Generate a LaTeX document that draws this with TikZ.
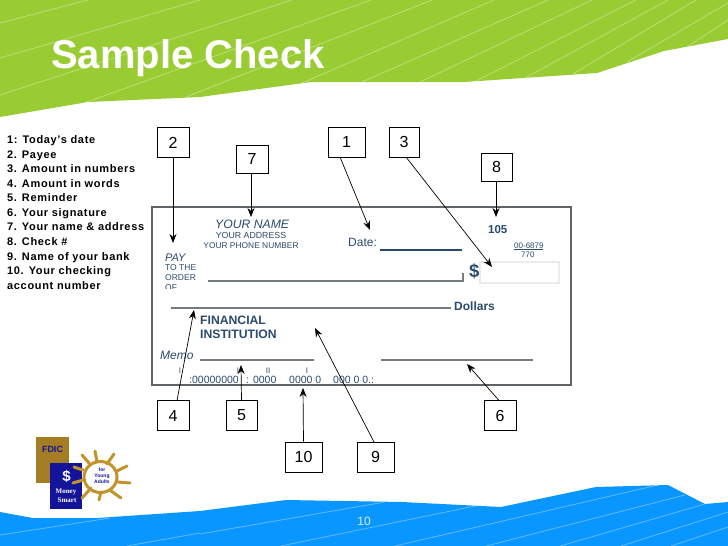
\documentclass[tikz,border=0pt]{standalone}
\usepackage{fontspec}
\setmainfont{Liberation Sans}
\newfontfamily\listfont[LetterSpace=6]{Liberation Sans}
\newfontfamily\serifb{Liberation Serif}
\usetikzlibrary{arrows.meta}
\definecolor{ggreen}{HTML}{99CC33}
\definecolor{bblue}{HTML}{0A96FF}
\definecolor{ink}{HTML}{2C4A6E}
\definecolor{frameg}{HTML}{5E6468}
\definecolor{gold}{HTML}{C2932A}
\definecolor{navyb}{HTML}{14149A}
\newcommand{\fs}[1]{\fontsize{#1}{#1}\selectfont}
\tikzset{
  numbox/.style={draw=black,line width=0.8pt,fill=white,minimum height=30pt,inner sep=0pt,font=\fs{16}},
  pointer/.style={draw=black,line width=0.7pt,-{Stealth[length=9pt,width=7pt]}},
  sheen/.style={draw=white,opacity=0.35,line width=0.8pt},
  listline/.style={anchor=base west,inner sep=0pt,font=\listfont\bfseries\fs{11}},
  checktxt/.style={inner sep=0pt,text=ink,anchor=base west},
  checkline/.style={draw=frameg!85,line width=1.3pt},
  ray/.style={draw=gold,line width=3pt,line cap=round}
}
\begin{document}
\begin{tikzpicture}[x=1pt,y=-1pt]
\useasboundingbox (0,0) rectangle (728,546);
\fill[white] (0,0) rectangle (728,546);
% green band
\fill[ggreen] (0,0) -- (728,0) -- (728,39) -- (664,51) -- (597,73) -- (464,82) -- (311,82) -- (200,97) -- (88,102) -- (0,117) -- cycle;
\foreach \a/\b/\c/\d in {0/23/88/0,0/58/200/0,0/95/292/0,84/103/371/0,186/97/432/0,302/83/494/0,362/82/548/0,420/82/592/0,474/82/636/0,525/78/668/0,573/74/696/0,627/62/728/3,687/47/728/20}
  \draw[sheen] (\a,\b) -- (\c,\d);
% blue band
\fill[bblue] (0,512) -- (33,518) -- (97,518) -- (200,511) -- (286,500) -- (402,502) -- (501,507) -- (596,487) -- (668,485) -- (705,504) -- (728,502) -- (728,546) -- (0,546) -- cycle;
\foreach \a/\b/\c/\d in {0/535/110/518,127/546/200/533,200/534/385/502,281/546/480/505,395/546/658/485,486/546/685/495,560/546/705/504,621/546/728/512,671/546/728/527}
  \draw[sheen] (\a,\b) -- (\c,\d);
\node[anchor=base west,inner sep=0pt,text=white,font=\bfseries\fs{40}] (title) at (51,68) {Sample Check};
\node[inner sep=0pt,text=white!85!bblue,font=\fs{12}] (pageno) at (364,521) {10};
% list
\node[listline] (l1) at (7,143) {1: Today’s date};
\node[listline] (l2) at (7,158) {2. Payee};
\node[listline] (l3) at (7,172) {3. Amount in numbers};
\node[listline] (l4) at (7,187) {4. Amount in words};
\node[listline] (l5) at (7,201) {5. Reminder};
\node[listline] (l6) at (7,216) {6. Your signature};
\node[listline] (l7) at (7,230) {7. Your name \& address};
\node[listline] (l8) at (7,245) {8. Check \#};
\node[listline] (l9) at (7,260) {9. Name of your bank};
\node[listline] (l10) at (7,274) {10. Your checking};
\node[listline] (l11) at (7,289) {account number};
% check
\draw[draw=frameg,line width=2pt,fill=white] (152,207) rectangle (571,385);
\node[checktxt,font=\itshape\fs{12.2}] (yname) at (215,228) {YOUR NAME};
\node[checktxt,anchor=base,font=\fs{8.8}] (yaddr) at (251,238) {YOUR ADDRESS};
\node[checktxt,anchor=base,font=\fs{8.4}] (yphone) at (251,248) {YOUR PHONE NUMBER};
\node[checktxt,font=\itshape\fs{11}] (pay) at (165,261) {PAY};
\node[checktxt,font=\fs{8.5}] (tothe) at (165,270) {TO THE};
\node[checktxt,font=\fs{8.5}] (order) at (165,280) {ORDER};
\begin{scope}
\clip (160,280) rectangle (200,288);
\node[checktxt,font=\fs{8.5}] (of) at (165,290) {OF};
\end{scope}
\draw[checkline] (208,281) -- (463,281) -- (463,273);
\draw[checkline] (171,308) -- (451,308);
\node[checktxt,font=\fs{12}] (date) at (348,246) {Date:};
\draw[draw=ink,line width=1.4pt] (380,250) -- (462,250);
\node[checktxt,font=\bfseries\fs{18.5}] (dollar) at (469,277) {\$};
\draw[draw=black!8,line width=2pt] (480,262) rectangle (559,283);
\node[checktxt,font=\bfseries\fs{11.5}] (chk) at (488,233) {105};
\node[checktxt,font=\fs{8}] (routing) at (514,248) {00-6879};
\draw[draw=ink,line width=0.4pt] (514,249) -- (543,249);
\node[checktxt,font=\fs{8}] (rout2) at (521,257) {770};
\node[checktxt,font=\bfseries\fs{12}] (dollars) at (454,310) {Dollars};
\node[checktxt,font=\bfseries\fs{12.2}] (fin1) at (200,324) {FINANCIAL};
\node[checktxt,font=\bfseries\fs{12.2}] (fin2) at (200,338) {INSTITUTION};
\node[checktxt,font=\itshape\fs{12}] (memo) at (160,359) {Memo};
\draw[checkline] (200,360) -- (314,360);
\draw[checkline] (381,360) -- (533,360);
\node[checktxt,font=\fs{10.5}] (m1) at (189,383) {:00000000};
\node[checktxt,font=\fs{10.5}] (m2) at (246,383) {: 0000};
\node[checktxt,font=\fs{10.5}] (m3) at (289,383) {0000 0};
\node[checktxt,font=\fs{10.5}] (m4) at (333,383) {000 0 0.:};
\node[checktxt,anchor=base,font=\fs{8}] (t1) at (180,373) {I};
\node[checktxt,anchor=base,font=\fs{8}] (t2) at (238,373) {I};
\node[checktxt,anchor=base,font=\fs{8}] (t3) at (268,373) {II};
\node[checktxt,anchor=base,font=\fs{8}] (t4) at (307,373) {I};
% number boxes
\node[numbox,minimum width=32pt] (b2) at (173,142.5) {2};
\node[numbox,minimum width=32pt,minimum height=28pt] (b7) at (252,159) {7};
\node[numbox,minimum width=37pt] (b1) at (346.5,142) {1};
\node[numbox,minimum width=30pt] (b3) at (404,142) {3};
\node[numbox,minimum width=31pt,minimum height=28pt] (b8) at (496.5,167) {8};
\node[numbox,minimum width=32pt] (b4) at (173,415.5) {4};
\node[numbox,minimum width=31pt] (b5) at (241.5,415.5) {5};
\node[numbox,minimum width=32pt] (b6) at (500,415.5) {6};
\node[numbox,minimum width=37pt] (b10) at (303.5,457) {10};
\node[numbox,minimum width=37pt] (b9) at (375.5,457) {9};
% arrow targets
\coordinate (t2a) at (173,243);
\coordinate (t7a) at (251,217);
\coordinate (t1a) at (370,230);
\coordinate (t3a) at (492,267);
\coordinate (t8a) at (496,217);
\coordinate (t4a) at (194,310);
\coordinate (t5a) at (241,365);
\coordinate (t6a) at (467,364);
\coordinate (t10a) at (303,388);
\coordinate (t9a) at (315,328);
\coordinate (s1) at (340,157);
\coordinate (s3) at (406,157);
\coordinate (s4) at (177,400.5);
\coordinate (s6) at (499,400.5);
\coordinate (s9) at (374,442);
\draw[pointer] (b2.south) -- (t2a);
\draw[pointer] (b7.south -| t7a) -- (t7a);
\draw[pointer] (s1) -- (t1a);
\draw[pointer] (s3) -- (t3a);
\draw[pointer] (b8.south -| t8a) -- (t8a);
\draw[pointer] (s4) -- (t4a);
\draw[pointer] (b5.north) -- (t5a);
\draw[pointer] (s6) -- (t6a);
\draw[pointer] (b10.north) -- (t10a);
\draw[pointer] (s9) -- (t9a);
% logo
\fill[gold!85!black] (36,437) rectangle (69,483);
\node[inner sep=0pt,text=navyb,font=\bfseries\fs{9}] (fdic) at (52.5,449) {FDIC};
\fill[navyb] (50,463) rectangle (82,509);
\node[inner sep=0pt,text=white,font=\bfseries\fs{15}] (ms) at (66.5,476) {\$};
\node[inner sep=0pt,text=white,font=\serifb\bfseries\fs{7}] (money) at (66,492) {Money};
\node[inner sep=0pt,text=white,font=\serifb\bfseries\fs{7}] (smart) at (67,500.5) {Smart};
\draw[draw=gold,line width=3pt,fill=white] (100.5,477) ellipse [x radius=16.5pt,y radius=15.5pt];
\node[inner sep=0pt,align=center,text=navyb,font=\bfseries\fs{5}] (fya) at (102,476) {for\\[1pt]Young\\[1pt]Adults};
\foreach \a/\b/\c/\d in {82/455/89/463,95/451/97/462,114/454/107/464,127/466/117/471,130/483/118/482,121/498/111/491,99/500/101/492,82/498/91/488,73/483/83/480,74/467/83/470}
  \draw[ray] (\a,\b) -- (\c,\d);
\end{tikzpicture}
\end{document}
